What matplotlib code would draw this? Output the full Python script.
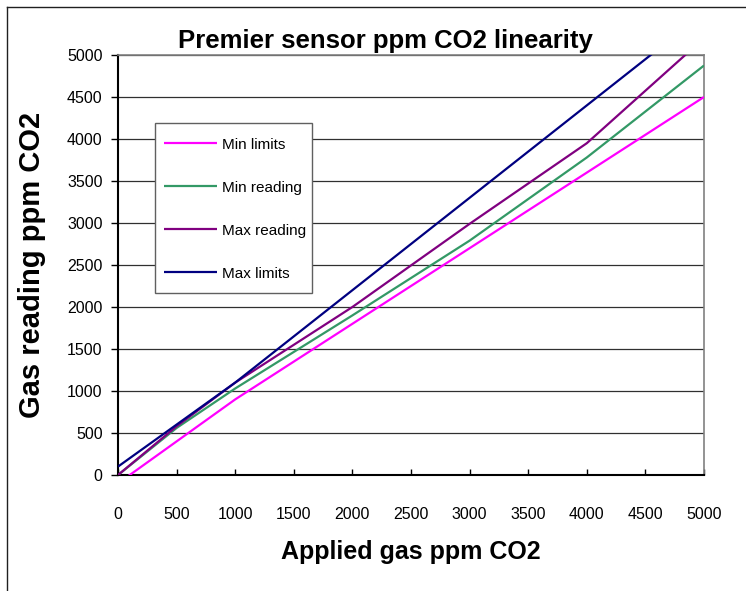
import numpy as np
import matplotlib
matplotlib.use('Agg')
import matplotlib.pyplot as plt
from matplotlib.lines import Line2D
from matplotlib.patches import Rectangle

plt.rcParams['font.family'] = ['Liberation Sans', 'DejaVu Sans']

applied = [0, 500, 1000, 2000, 3000, 4000, 5000]
min_limits = [-100, 400, 900, 1800, 2700, 3600, 4500]
min_reading = [0, 560, 1030, 1900, 2790, 3780, 4875]
max_reading = [0, 580, 1100, 2000, 2990, 3950, 5200]
max_limits = [100, 600, 1100, 2200, 3300, 4400, 5500]

x_ticks = list(range(0, 5001, 500))
y_ticks = list(range(0, 5001, 500))

series = [
    ('Min limits', min_limits, '#FF00FF'),
    ('Min reading', min_reading, '#339966'),
    ('Max reading', max_reading, '#800080'),
    ('Max limits', max_limits, '#000080'),
]

W, H = 746, 591
fig = plt.figure(figsize=(W / 100, H / 100), dpi=100)
ax = fig.add_axes([118 / W, 1 - 475 / H, (704 - 118) / W, (475 - 55) / H])

for y in y_ticks[1:]:
    ax.axhline(y, color='#303030', lw=0.9, zorder=1)

for name, vals, col in series:
    ax.plot(applied, vals, color=col, lw=1.6, label=name, zorder=3,
            solid_capstyle='butt')

ax.set_xlim(0, 5000)
ax.set_ylim(0, 5000)
ax.set_xticks(x_ticks)
ax.set_yticks(y_ticks)
ax.tick_params(axis='x', direction='in', length=4, width=1, pad=23,
               labelsize=11.5, colors='black')
ax.tick_params(axis='y', direction='out', length=5, width=1, pad=6,
               labelsize=11.5, colors='black')

ax.spines['left'].set_linewidth(1.5)
ax.spines['bottom'].set_linewidth(1.5)
ax.spines['top'].set_color('#808080')
ax.spines['right'].set_color('#808080')
ax.spines['top'].set_linewidth(1.2)
ax.spines['right'].set_linewidth(1.2)

# legend box drawn separately so it can sit tight around the entries
box = Rectangle((155 / W, 1 - 293 / H), (312 - 155) / W, (293 - 123) / H,
                transform=fig.transFigure, facecolor='white',
                edgecolor='#606060', lw=1.0, zorder=4, clip_on=False)
ax.add_patch(box)

leg = ax.legend(loc='upper left',
                bbox_to_anchor=((150 - 118) / (704 - 118), (475 - 124) / (475 - 55)),
                fontsize=11, frameon=False,
                handlelength=3.5, handletextpad=0.3,
                labelspacing=1.9, borderpad=0.9, borderaxespad=0)
leg.set_zorder(5)

fig.text(385 / W, 1 - 41 / H, 'Premier sensor ppm CO2 linearity',
         fontsize=18.5, fontweight='bold', ha='center', va='center')
fig.text(411 / W, 1 - 552 / H, 'Applied gas ppm CO2',
         fontsize=18, fontweight='bold', ha='center', va='center')
fig.text(32 / W, 1 - 265 / H, 'Gas reading ppm CO2',
         fontsize=21, fontweight='bold', ha='center', va='center',
         rotation=90)

# outer chart frame (only top and left edges are visible)
fig.add_artist(Line2D([7 / W, 1], [1 - 7 / H, 1 - 7 / H],
                      transform=fig.transFigure, color='#202020', lw=1))
fig.add_artist(Line2D([7 / W, 7 / W], [0, 1 - 7 / H],
                      transform=fig.transFigure, color='#202020', lw=1))

fig.savefig('out.png', dpi=100)
